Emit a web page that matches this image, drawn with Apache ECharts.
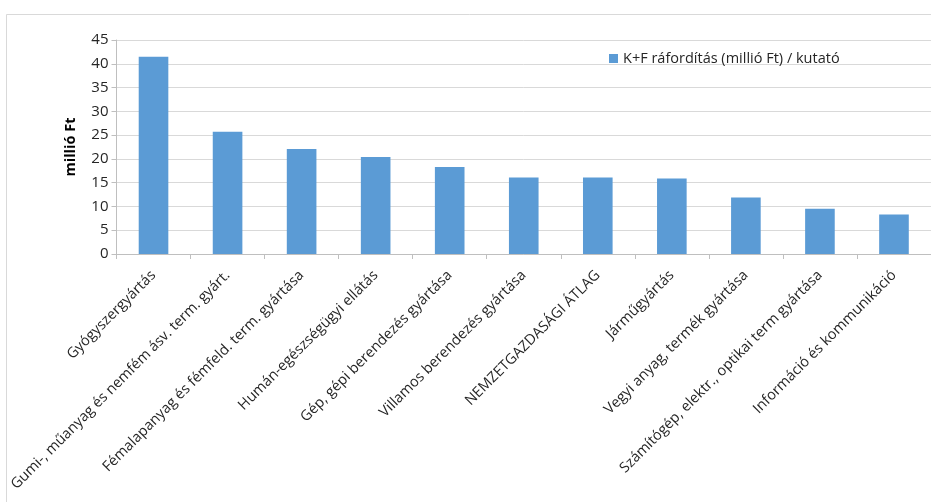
<!DOCTYPE html>
<html>
<head>
<meta charset="utf-8">
<script src="https://cdn.jsdelivr.net/npm/echarts@6/dist/echarts.min.js"></script>
<style>
  html, body { margin: 0; padding: 0; background: #fff; }
  #chart { width: 931px; height: 502px; }
</style>
</head>
<body>
<div id="chart"></div>
<script>
// Ágazatok (kategóriák)
const categories = [
  'Gyógyszergyártás',
  'Gumi-, műanyag és nemfém ásv. term. gyárt.',
  'Fémalapanyag és fémfeld. term. gyártása',
  'Humán-egészségügyi ellátás',
  'Gép, gépi berendezés gyártása',
  'Villamos berendezés gyártása',
  'NEMZETGAZDASÁGI ÁTLAG',
  'Járműgyártás',
  'Vegyi anyag, termék gyártása',
  'Számítógép, elektr., optikai term gyártása',
  'Információ és kommunikáció'
];
// K+F ráfordítás (millió Ft) / kutató
const values = [41.5, 25.7, 22.1, 20.4, 18.3, 16.1, 16.1, 15.9, 11.9, 9.5, 8.3];
const seriesName = 'K+F ráfordítás (millió Ft) / kutató';
const yAxisName = 'millió Ft';

const font = '"Open Sans", "Liberation Sans", sans-serif';
const chart = echarts.init(document.getElementById('chart'), null, { renderer: 'canvas' });

chart.setOption({
  animation: false,
  backgroundColor: '#fff',
  graphic: [{
    type: 'rect',
    shape: { x: 6.5, y: 14.5, width: 1000, height: 600 },
    style: { fill: 'none', stroke: '#d9d9d9', lineWidth: 1 },
    silent: true, z: -1
  }],
  legend: {
    data: [seriesName],
    left: 604, top: 46,
    itemWidth: 9, itemHeight: 9, itemGap: 5,
    icon: 'rect',
    textStyle: { fontFamily: font, fontSize: 14.5, color: '#262626' }
  },
  grid: { left: 116.5, top: 40, width: 826, height: 214, containLabel: false },
  xAxis: {
    type: 'category',
    data: categories,
    boundaryGap: true,
    axisLine: { lineStyle: { color: '#bfbfbf' } },
    axisTick: { show: true, length: 5, lineStyle: { color: '#bfbfbf' } },
    axisLabel: {
      rotate: 45, interval: 0, margin: 19,
      fontFamily: font, fontSize: 14.5, color: '#262626'
    }
  },
  yAxis: {
    type: 'value',
    min: 0, max: 45, interval: 5,
    name: yAxisName,
    nameLocation: 'middle',
    nameGap: 38,
    nameRotate: 90,
    nameTextStyle: { fontFamily: font, fontSize: 14.5, fontWeight: 'bold', color: '#000' },
    axisLine: { show: true, lineStyle: { color: '#bfbfbf' } },
    axisTick: { show: true, length: 5, lineStyle: { color: '#bfbfbf' } },
    axisLabel: { fontFamily: font, fontSize: 15, color: '#262626', margin: 8 },
    splitLine: { lineStyle: { color: '#d9d9d9' } }
  },
  series: [{
    name: seriesName,
    type: 'bar',
    data: values,
    barWidth: '40%',
    itemStyle: { color: '#5b9bd5' }
  }]
});
</script>
</body>
</html>
